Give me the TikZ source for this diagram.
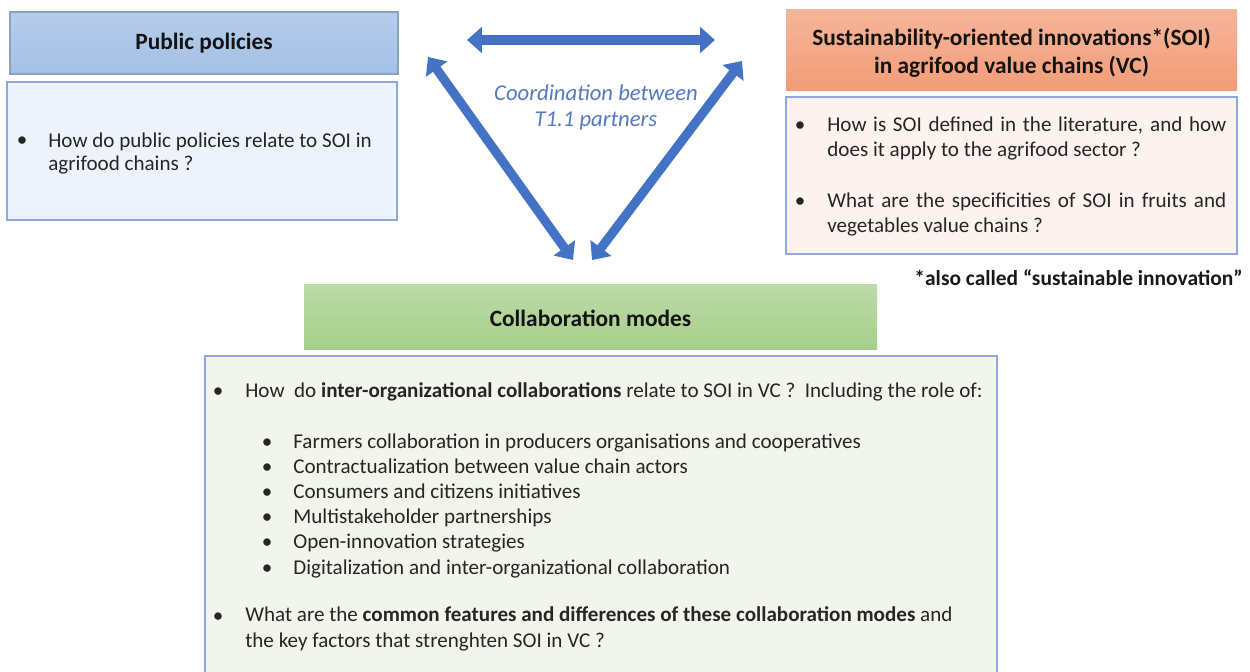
\documentclass[tikz,border=0pt]{standalone}
\usepackage{fontspec}
\setmainfont{Carlito}
\usetikzlibrary{arrows.meta,fit}

\definecolor{hdrblue}{HTML}{A4C0E6}
\definecolor{hdrorange}{HTML}{F29C78}
\definecolor{hdrgreen}{HTML}{A6CF8B}
\definecolor{boxline}{HTML}{8EA9DB}
\definecolor{arrowblue}{HTML}{4472C4}
\definecolor{noteblue}{HTML}{5479C2}
\definecolor{ppfill}{HTML}{EEF2FA}
\definecolor{soifill}{HTML}{FCF3EE}
\definecolor{cmfill}{HTML}{F1F5EC}

\begin{document}
\begin{tikzpicture}[x=0.02cm,y=-0.02cm,
    hdr/.style={inner sep=0pt},
    hdrtxt/.style={inner sep=0pt, align=center, text=black!92,
        font=\bfseries\fontsize{13.3}{15.8}\selectfont},
    qbox/.style={draw=boxline, line width=1.1pt, inner sep=0pt},
    txt/.style={inner sep=0pt, anchor=base west, align=left, text=black!85,
        font=\fontsize{12}{14.3}\selectfont},
    bul/.style={inner sep=0pt, anchor=base, align=center, text=black!85,
        font=\fontsize{12}{14.3}\selectfont},
    link/.style={draw=arrowblue, line width=5.2pt,
        {Triangle[length=8.5pt,width=14.5pt]}-{Triangle[length=8.5pt,width=14.5pt]}}]
    \useasboundingbox (0,0) rectangle (1250,672);
    \fill[white] (0,0) rectangle (1250,672);

    % public policies
    \node[hdr, fit={(10,12) (398,74)}, top color=hdrblue!80!white,
        bottom color=hdrblue, draw=hdrblue!85!black, line width=0.6pt] (pp) {};
    \node[hdrtxt] (ppl) at (pp.center) {Public policies};
    \node[qbox, fill=ppfill, fit={(7,82) (397,220)}] (ppq) {};
    \node[bul] (ppb) at (22,147) {\textbullet};
    \node[txt, font=\fontsize{12}{13.6}\selectfont] (ppt) at (48,171) {How do public policies relate to SOI in\\agrifood chains ?};

    % sustainability-oriented innovations
    \node[hdr, fit={(786,10) (1237,91)}, top color=hdrorange!75!white,
        bottom color=hdrorange] (soi) {};
    \node[hdrtxt] (soil) at ([yshift=-1.5]soi.center) {Sustainability-oriented innovations*(SOI)\\in agrifood value chains (VC)};
    \node[qbox, fill=soifill, fit={(786,97) (1237,254)}] (soiq) {};
    \node[bul] (soib1) at (800,132) {\textbullet};
    \node[txt] (soit1) at (827,157) {\makebox[7.98cm][s]{How is SOI defined in the literature, and how}\\does it apply to the agrifood sector ?};
    \node[bul] (soib2) at (800,208) {\textbullet};
    \node[txt] (soit2) at (827,233) {\makebox[7.98cm][s]{What are the specificities of SOI in fruits and}\\vegetables value chains ?};
    \node[txt, anchor=base east, font=\bfseries\fontsize{12.2}{14.3}\selectfont, text=black!90]
        (note) at (1243,285) {*also called “sustainable innovation”};

    % collaboration modes
    \node[hdr, fit={(304,284) (877,349)}, top color=hdrgreen!75!white,
        bottom color=hdrgreen] (cm) {};
    \node[hdrtxt] (cml) at ([yshift=-1]cm.center) {Collaboration modes};
    \node[qbox, fill=cmfill, fit={(205,356) (997,700)}] (cmq) {};
    \node[bul] (cmb1) at (218,397) {\textbullet};
    \node[txt] (cmt1) at (245,397) {How~ do \textbf{inter-organizational collaborations} relate to SOI in VC ?~ Including the role of:};
    \node[bul] (cmsb) at (267,574) {\textbullet\\\textbullet\\\textbullet\\\textbullet\\\textbullet\\\textbullet};
    \node[txt] (cmst) at (293,574) {Farmers collaboration in producers organisations and cooperatives\\
        Contractualization between value chain actors\\
        Consumers and citizens initiatives\\
        Multistakeholder partnerships\\
        Open-innovation strategies\\
        Digitalization and inter-organizational collaboration};
    \node[bul] (cmb2) at (218,622) {\textbullet};
    \node[txt] (cmt2) at (245,647) {What are the \textbf{common features and differences of these collaboration modes} and\\the key factors that strenghten SOI in VC ?};

    % coordination arrows
    \coordinate (hl) at (467,40);
    \coordinate (hr) at (715,40);
    \coordinate (lt) at (428,57);
    \coordinate (lb) at (573,260);
    \coordinate (rt) at (742,61);
    \coordinate (rb) at (592,260);
    \draw[link] (hl) -- (hr);
    \draw[link] (lt) -- (lb);
    \draw[link] (rt) -- (rb);
    \node[bul, font=\itshape\fontsize{12.9}{15.3}\selectfont, text=noteblue] (coord) at (596,127)
        {Coordination between\\T1.1 partners};
\end{tikzpicture}
\end{document}
